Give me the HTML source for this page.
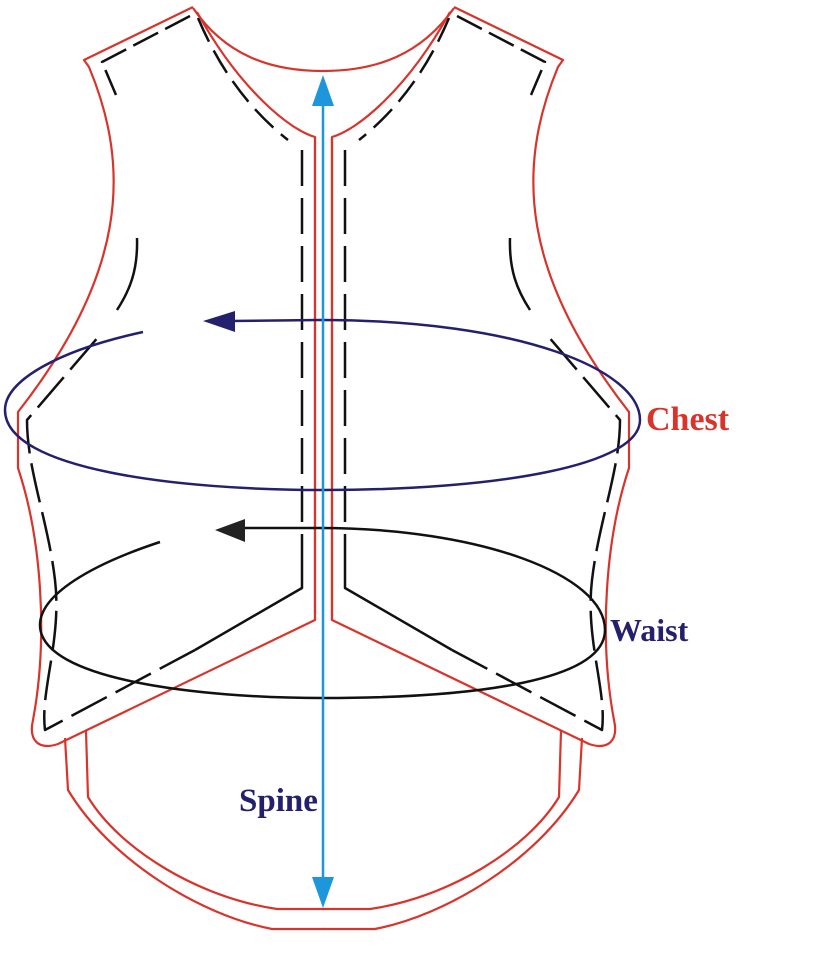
<!DOCTYPE html>
<html><head><meta charset="utf-8"><style>
html,body{margin:0;padding:0;background:#fff;}
svg{display:block}
text{font-family:"Liberation Serif",serif;font-weight:bold}
</style></head><body>
<svg width="827" height="972" viewBox="0 0 827 972" xmlns="http://www.w3.org/2000/svg">
<defs>
<g id="half" fill="none" stroke-linejoin="round">
  <path d="M193,7 L84,60 L89,67 C132,170 125,275 18,412 L18,468 C42,540 48,640 33,720 C28,742 40,750 58,744 L315,620 L315,137 C290,130 240,90 197,12" stroke="#d8342c" stroke-width="2.2"/>
  <path d="M65,738 L68,790 C110,860 200,915 272,929 L324,929" stroke="#d8342c" stroke-width="2.2"/>
  <path d="M86,731 L88,797 C120,850 200,898 277,909 L324,909" stroke="#d8342c" stroke-width="2.2"/>
  <path d="M190,16 L102,62 L116,95" stroke="#111" stroke-width="2.5" stroke-dasharray="28,8"/>
  <path d="M198,18 C220,70 250,110 288,140" stroke="#111" stroke-width="2.5" stroke-dasharray="26,10"/>
  <path d="M302,150 L302,556" stroke="#111" stroke-width="2.5" stroke-dasharray="36,12"/>
  <path d="M302,556 L302,588 L195,650" stroke="#111" stroke-width="2.5"/>
  <path d="M195,650 L45,730 C40,690 62,640 55,580 C48,520 27,470 27,420 L100,335" stroke="#111" stroke-width="2.5" stroke-dasharray="40,10"/>
  <path d="M137,238 C138,270 130,290 117,310" stroke="#111" stroke-width="2.5"/>
</g>
</defs>
<use href="#half"/>
<use href="#half" transform="translate(647,0) scale(-1,1)"/>
<path d="M193,8 C225,55 270,71 323,71 C376,71 421,55 454,8" fill="none" stroke="#d8342c" stroke-width="2.2"/>
<line x1="315" y1="137" x2="315" y2="620" stroke="#d8342c" stroke-width="2.2"/>
<line x1="332" y1="137" x2="332" y2="620" stroke="#d8342c" stroke-width="2.2"/>
<path d="M143,332 C60,350 5,380 5,410 C5,470 180,490 323,490 C500,490 640,465 640,420 C640,370 520,320 320,320 L230,321" fill="none" stroke="#24206e" stroke-width="2.5"/>
<polygon points="203,321 235,311 235,332" fill="#24206e"/>
<path d="M160,542 C90,565 40,595 40,625 C40,680 200,698 323,698 C480,698 605,680 605,630 C605,575 480,528 320,528 L240,528" fill="none" stroke="#111" stroke-width="2.5"/>
<polygon points="215,530 245,519 245,542" fill="#222"/>
<line x1="323" y1="100" x2="323" y2="880" stroke="#1e96dc" stroke-width="2.5"/>
<polygon points="323,75 312,106 334,106" fill="#1e96dc"/>
<polygon points="323,908 312,877 334,877" fill="#1e96dc"/>
<text x="646" y="430" font-size="34" fill="#d8342c">Chest</text>
<text x="610" y="641" font-size="32" fill="#24206e">Waist</text>
<text x="239" y="811" font-size="33" fill="#24206e">Spine</text>
</svg>
</body></html>
